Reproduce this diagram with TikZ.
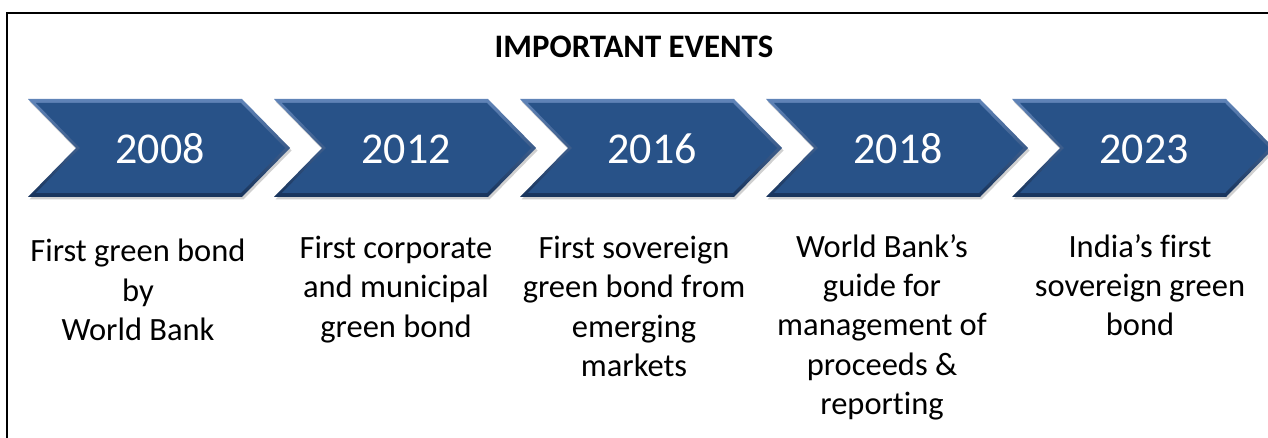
\documentclass[tikz,border=0pt]{standalone}
\usepackage{fontspec}
\setmainfont[Ligatures=NoCommon]{Carlito}
\usetikzlibrary{shadows}
\definecolor{chevmain}{RGB}{40,82,136}
\definecolor{chevlight}{RGB}{96,132,184}
\definecolor{chevdark}{RGB}{24,52,92}
\tikzset{
  chevouter/.style={top color=chevlight, bottom color=chevdark, draw=none,
    drop shadow={shadow xshift=1.5pt, shadow yshift=-2.5pt, opacity=0.3, fill=black!60}},
  chevinner/.style={fill=chevmain, draw=none},
  yearlabel/.style={text=white, font=\fontsize{44}{48}\selectfont, inner sep=0pt, anchor=base},
  eventtext/.style={align=center, font=\fontsize{32.5}{39.3}\selectfont, inner sep=0pt, anchor=north},
  titletext/.style={font=\bfseries\fontsize{32.8}{36}\selectfont, inner sep=0pt, anchor=base},
}
\begin{document}
\begin{tikzpicture}[x=1pt,y=-1pt]
\useasboundingbox (0,0) rectangle (1268,438);
\clip (0,0) rectangle (1268,438);
\fill[white] (0,0) rectangle (1268,438);
% outer frame, running past the right and bottom edges
\draw[line width=2pt] (7,13) rectangle (1300,470);
\node[titletext] (title) at (634,57.5) {IMPORTANT EVENTS};
% the five chevrons
\foreach \x/\yr/\nm in {28/2008/a,274/2012/b,520/2016/c,766/2018/d,1012/2023/e}{
  \path[chevouter] (\x,99) -- ++(214,0) -- ++(48,49) -- ++(-48,49) -- ++(-214,0) -- ++(48,-49) -- cycle;
  \path[chevinner] (\x+8,103) -- ++(205,0) -- ++(44,45) -- ++(-44,45) -- ++(-205,0) -- ++(44,-45) -- cycle;
  \node[yearlabel] (y\nm) at (\x+132,164) {\yr};
}
% descriptions under each year
\node[eventtext] (ta) at (138,239) {First green bond\\by\\World Bank};
\node[eventtext] (tb) at (396,236) {First corporate\\and municipal\\green bond};
\node[eventtext] (tc) at (634,236) {First sovereign\\green bond from\\emerging\\markets};
\node[eventtext] (td) at (882,234) {World Bank’s\\guide for\\management of\\proceeds \&\\reporting};
\node[eventtext] (te) at (1140,234) {India’s first\\sovereign green\\bond};
\end{tikzpicture}
\end{document}
